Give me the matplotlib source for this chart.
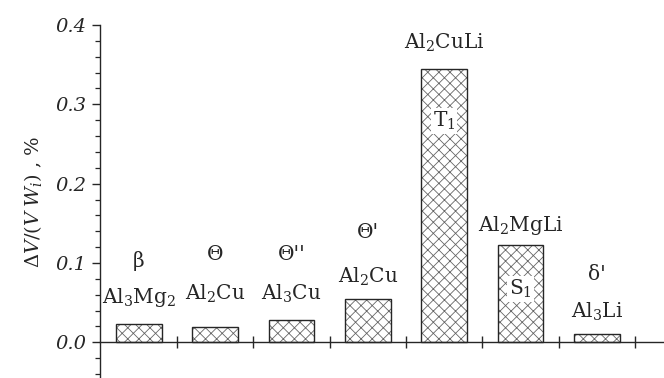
import numpy as np
import matplotlib
matplotlib.use("Agg")
import matplotlib.pyplot as plt
from matplotlib.ticker import MultipleLocator

# data
phases = [r'Al$_3$Mg$_2$', r'Al$_2$Cu', r'Al$_3$Cu', r'Al$_2$Cu',
          r'Al$_2$CuLi', r'Al$_2$MgLi', r'Al$_3$Li']
symbols = ['β', 'Θ', "Θ''", "Θ'", r'T$_1$', r'S$_1$', "δ'"]
values = [0.023, 0.019, 0.028, 0.054, 0.344, 0.123, 0.010]

# label placement (data y of each text centre)
phase_y = [0.057, 0.061, 0.061, 0.083, 0.378, 0.147, 0.038]
symbol_y = [0.103, 0.111, 0.111, 0.139, 0.279, 0.067, 0.086]

plt.rcParams['font.family'] = ['DejaVu Serif']
plt.rcParams['mathtext.fontset'] = 'dejavuserif'
plt.rcParams['hatch.linewidth'] = 0.6

fig = plt.figure(figsize=(6.64, 3.78), dpi=100)
ax = fig.add_axes([100 / 664, 0.0, 564 / 664, 353 / 378])

x = np.arange(1, len(values) + 1)
ink = '0.15'
# hatch layer (grey lines), then a dark outline on top
ax.bar(x, values, width=0.6, color='white', edgecolor='0.4', hatch='xxx', linewidth=0)
ax.bar(x, values, width=0.6, fill=False, edgecolor=ink, linewidth=1.0)

for xi, name, py in zip(x, phases, phase_y):
    ax.text(xi, py, name, ha='center', va='center', fontsize=14.5, color=ink)
for i, (xi, sym, sy) in enumerate(zip(x, symbols, symbol_y)):
    if i in (4, 5):
        ax.text(xi, sy, sym, ha='center', va='center', fontsize=14.5, color=ink,
                bbox=dict(facecolor='white', edgecolor='none', pad=1.5))
    else:
        ax.text(xi, sy, sym, ha='center', va='center', fontsize=14.5, color=ink)

ax.set_xlim(0.49, 7.88)
ax.set_ylim(-0.045, 0.4)

for s in ['top', 'right']:
    ax.spines[s].set_visible(False)
ax.spines['bottom'].set_position(('data', 0))
ax.spines['left'].set_bounds(-0.045, 0.4)
for s in ['left', 'bottom']:
    ax.spines[s].set_color(ink)
    ax.spines[s].set_linewidth(1.0)

ax.set_xticks(list(x + 0.5))
ax.xaxis.set_ticklabels([])
ax.tick_params(axis='x', direction='inout', length=9, width=1.0, color=ink)

ax.yaxis.set_major_locator(MultipleLocator(0.1))
ax.yaxis.set_minor_locator(MultipleLocator(0.02))
ax.set_yticks([0.0, 0.1, 0.2, 0.3, 0.4])
ax.set_yticklabels(['0.0', '0.1', '0.2', '0.3', '0.4'], fontstyle='italic',
                   fontsize=14, color=ink)
ax.tick_params(axis='y', which='major', direction='out', length=6, width=1.0,
               color=ink, pad=4)
ax.tick_params(axis='y', which='minor', direction='out', length=3.5, width=0.9,
               color=ink)

ax.set_ylabel(r'$\Delta V/(V\;W_i)$ , %', fontsize=14, color=ink, labelpad=8)

fig.savefig('out.png', dpi=100)
